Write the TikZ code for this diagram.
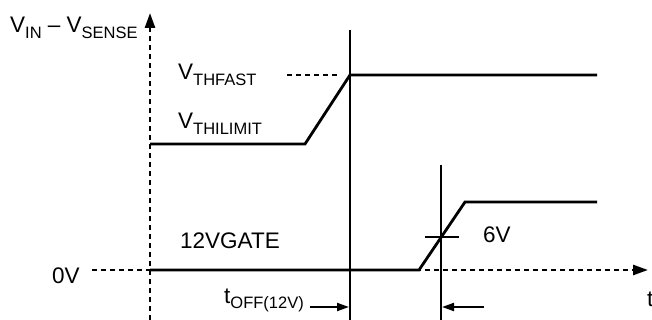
\documentclass[tikz,border=0pt]{standalone}
\usepackage{fontspec}
\setmainfont{Liberation Sans}
\usetikzlibrary{arrows.meta}
\newcommand\lowsub[1]{\raisebox{-5.5pt}{\fontsize{16.5}{18}\selectfont #1}}
\begin{document}
\begin{tikzpicture}[x=1pt,y=-1pt,
  lbl/.style={inner sep=0pt,anchor=base west,font=\fontsize{22.5}{26}\selectfont},
  axisline/.style={line width=2.6pt,dash pattern=on 5pt off 4pt},
  sig/.style={line width=2.8pt,line join=miter},
  marker/.style={line width=1.4pt},
  tip/.style={-{Triangle[length=15pt,width=10pt]}},
  smalltip/.style={-{Triangle[length=12pt,width=8pt]}}]
\useasboundingbox (0,0) rectangle (652,320);
% axes
\coordinate (ybot) at (150,320);
\coordinate (ytop) at (150,13);
\coordinate (xleft) at (92,270);
\coordinate (xright) at (648,270);
\draw[axisline,tip] (ybot) -- (ytop);
\draw[axisline,tip] (xleft) -- (xright);
% top signal
\coordinate (s1a) at (150,144);
\coordinate (s1b) at (305,144);
\coordinate (s1c) at (350,75);
\coordinate (s1d) at (597,75);
\draw[sig] (s1a) -- (s1b) -- (s1c) -- (s1d);
\coordinate (fa) at (287,75);
\coordinate (fb) at (337,75);
\draw[line width=2pt,dash pattern=on 5pt off 4pt] (fa) -- (fb);
% gate signal
\coordinate (g1) at (150,270);
\coordinate (g2) at (419,270);
\coordinate (g3) at (465,202);
\coordinate (g4) at (597,202);
\draw[sig] (g1) -- (g2) -- (g3) -- (g4);
% verticals
\coordinate (v1t) at (350,30);
\coordinate (v1b) at (350,320);
\coordinate (v2t) at (441,165);
\coordinate (v2b) at (441,320);
\draw[marker] (v1t) -- (v1b);
\draw[marker] (v2t) -- (v2b);
% 6V tick
\coordinate (k1) at (425,237);
\coordinate (k2) at (459,237);
\draw[line width=1.7pt] (k1) -- (k2);
% timing arrows
\coordinate (a1s) at (310,307);
\coordinate (a1e) at (349,307);
\coordinate (a2s) at (484,307);
\coordinate (a2e) at (442,307);
\draw[line width=2pt,smalltip] (a1s) -- (a1e);
\draw[line width=2pt,smalltip] (a2s) -- (a2e);
% labels
\node[lbl] (ylab) at (10,33) {V\lowsub{IN} – V\lowsub{SENSE}};
\node[lbl] (vfast) at (178,80) {V\lowsub{THFAST}};
\node[lbl] (vilim) at (178,129) {V\lowsub{THILIMIT}};
\node[lbl] (gate) at (180,248) {12VGATE};
\node[lbl] (six) at (483,242) {6V};
\node[lbl] (zero) at (52,283) {0V};
\node[lbl] (toff) at (224,303) {t\lowsub{OFF(12V)}};
\node[lbl] (tlab) at (647,306) {t};
\end{tikzpicture}
\end{document}
